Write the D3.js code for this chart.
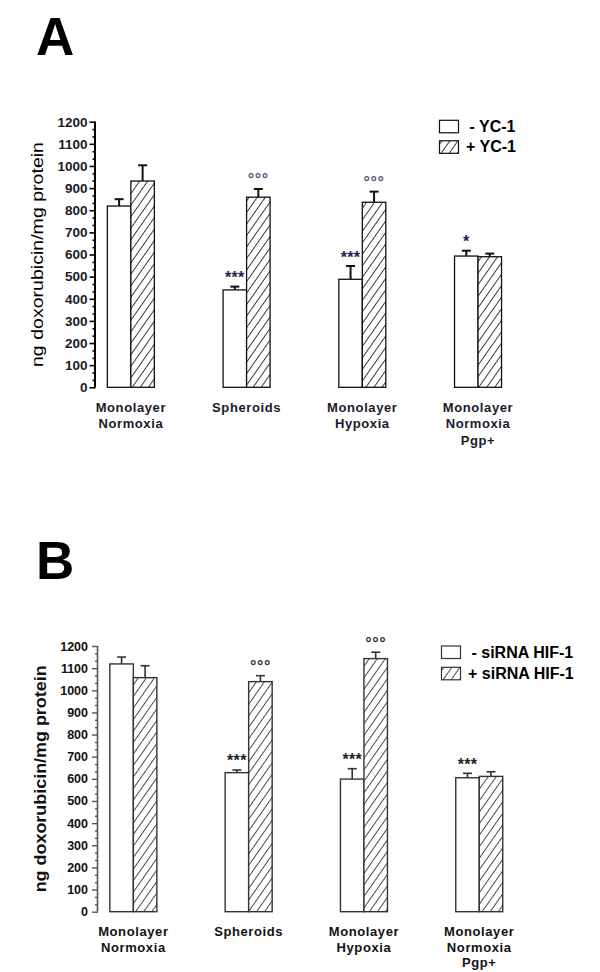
<!DOCTYPE html>
<html><head><meta charset="utf-8">
<script src="https://cdn.jsdelivr.net/npm/d3@7"></script>
<style>
body{margin:0;background:#fff;}
svg{display:block;font-family:"Liberation Sans",Arial,sans-serif;}
</style></head>
<body><svg id="c" width="600" height="972"></svg>
<script>
const categories = ["Monolayer|Normoxia","Spheroids","Monolayer|Hypoxia","Monolayer|Normoxia|Pgp+"];
const yTicks = [0,100,200,300,400,500,600,700,800,900,1000,1100,1200];

// Panel A: YC-1
const aSeries = ["- YC-1","+ YC-1"];
const aMinus = [819, 440, 488, 593];
const aMinusErr = [31, 15, 60, 24];
const aPlus = [932, 859, 836, 590];
const aPlusErr = [71, 37, 48, 14];
const aMinusMark = ["", "***", "***", "*"];
const aPlusMark = ["", "°°°", "°°°", ""];

// Panel B: siRNA HIF-1
const bSeries = ["- siRNA HIF-1","+ siRNA HIF-1"];
const bMinus = [1119, 628, 599, 605];
const bMinusErr = [31, 12, 47, 20];
const bPlus = [1057, 1039, 1143, 611];
const bPlusErr = [54, 27, 29, 21];
const bMinusMark = ["", "***", "***", "***"];
const bPlusMark = ["", "°°°", "°°°", ""];

const svg = d3.select("#c");
const defs = svg.append("defs");
function hatch(id, color, w){
  const p = defs.append("pattern").attr("id", id).attr("patternUnits","userSpaceOnUse")
    .attr("width", 6.6).attr("height", 10).attr("patternTransform","rotate(35)");
  p.append("rect").attr("width",6.6).attr("height",10).attr("fill","#fff");
  p.append("line").attr("x1",0.5).attr("x2",0.5).attr("y1",0).attr("y2",10)
    .attr("stroke", color).attr("stroke-width", w);
}
hatch("hA","#222",0.9);
hatch("hB","#333",0.9);

function panel(cfg){
  const g = svg.append("g");
  const y = d3.scaleLinear().domain([0,1200]).range([cfg.y0, cfg.y1]);
  const x = d3.scaleBand().domain(categories).range(cfg.xr).paddingInner(0).paddingOuter(0);
  const bw = cfg.bw;
  g.append("text").attr("x", cfg.letterX).attr("y", cfg.letterY).text(cfg.letter)
    .attr("font-size", 53).attr("font-weight","bold").attr("fill","#000");
  const major = d3.axisLeft(y).tickValues(yTicks).tickSize(cfg.tick).tickPadding(cfg.pad).tickFormat(d3.format("d"));
  const ax = g.append("g").attr("transform",`translate(${cfg.axX},0)`).call(major);
  ax.select(".domain").attr("stroke", cfg.axisColor).attr("stroke-width", cfg.axW).attr("d", `M-0.5,${y(1200)}V${y(0)}`);
  ax.selectAll(".tick line").attr("stroke", cfg.axisColor).attr("stroke-width", cfg.tickW);
  ax.selectAll(".tick text").attr("font-size", cfg.tickFs).attr("font-weight","bold").attr("fill", cfg.textColor)
    .attr("font-family","'Liberation Sans',Arial,sans-serif");
  const minorVals = [];
  yTicks.slice(0,-1).forEach(v => { minorVals.push(v+100/3, v+200/3); });
  const minor = d3.axisLeft(y).tickValues(minorVals).tickSize(cfg.tick/2).tickFormat("");
  const mx = g.append("g").attr("transform",`translate(${cfg.axX},0)`).call(minor);
  mx.select(".domain").remove();
  mx.selectAll(".tick line").attr("stroke", cfg.axisColor).attr("stroke-width", cfg.tickW);
  g.append("text").attr("transform",`translate(${cfg.titleX},${(y(0)+y(1200))/2}) rotate(-90)`)
    .attr("text-anchor","middle").attr("dominant-baseline","central")
    .attr("font-size", cfg.titleFs).attr("font-weight", cfg.titleW).attr("fill", cfg.titleColor)
    .attr("textLength", cfg.titleLen).attr("lengthAdjust","spacingAndGlyphs")
    .text("ng doxorubicin/mg protein");
  const series = [
    {vals: cfg.minus, err: cfg.minusErr, mark: cfg.minusMark, off: -bw, fill: "#fff", isDeg:false},
    {vals: cfg.plus, err: cfg.plusErr, mark: cfg.plusMark, off: 0, fill: `url(#${cfg.hatch})`, isDeg:true}
  ];
  series.forEach(s => {
    categories.forEach((c,i) => {
      const cx = x(c) + x.bandwidth()/2;
      const bx = cx + s.off;
      const v = s.vals[i], e = s.err[i];
      const ex = bx + bw/2;
      g.append("line").attr("x1",ex).attr("x2",ex).attr("y1",y(v)).attr("y2",y(v+e))
        .attr("stroke",cfg.barColor).attr("stroke-width",cfg.errW);
      g.append("line").attr("x1",ex-cfg.cap/2).attr("x2",ex+cfg.cap/2).attr("y1",y(v+e)).attr("y2",y(v+e))
        .attr("stroke",cfg.barColor).attr("stroke-width",cfg.errW);
      g.append("rect").attr("x",bx).attr("y",y(v)).attr("width",bw).attr("height",y(0)-y(v))
        .attr("fill",s.fill).attr("stroke",cfg.barColor).attr("stroke-width",cfg.barW);
      if (s.mark[i]) {
        const center = y(v+e) - 12.5;
        g.append("text").attr("x", ex).attr("y", center + 9)
          .attr("text-anchor","middle").attr("font-size", 16).attr("font-weight","bold")
          .attr("fill", s.isDeg ? cfg.degColor : cfg.starColor)
          .attr("letter-spacing", s.isDeg ? 0.6 : 0.3)
          .text(s.mark[i]);
      }
    });
  });
  categories.forEach(c => {
    const cx = x(c) + x.bandwidth()/2;
    c.split("|").forEach((line,k) => {
      g.append("text").attr("x", cx).attr("y", cfg.labY + k*cfg.labDy).attr("text-anchor","middle")
        .attr("font-size",13).attr("font-weight","bold").attr("letter-spacing",0.6)
        .attr("fill",cfg.textColor).text(line);
    });
  });
  cfg.series.forEach((name,k) => {
    const ly = cfg.legY + k*cfg.legDy;
    g.append("rect").attr("x",cfg.legX).attr("y",ly).attr("width",19).attr("height",12.5)
      .attr("fill", k===0 ? "#fff" : `url(#${cfg.hatch})`).attr("stroke",cfg.barColor).attr("stroke-width",1.2);
    g.append("text").attr("x", cfg.legX + (k===0 ? 30 : 26.5)).attr("y", ly + 11.5)
      .attr("font-size",16).attr("font-weight","bold").attr("fill","#000").text(name);
  });
}

panel({letter:"A", letterX:36, letterY:55, y0:387.3, y1:121.7, xr:[73,535.9], bw:23.5,
  axX:95.5, tick:6, pad:2, axisColor:"#000", axW:2, tickW:1.6, tickFs:13.5, textColor:"#1a1a2a",
  titleX:37.5, titleFs:17, titleW:"normal", titleLen:225, titleColor:"#000",
  minus:aMinus, minusErr:aMinusErr, plus:aPlus, plusErr:aPlusErr, minusMark:aMinusMark, plusMark:aPlusMark,
  hatch:"hA", barColor:"#111", barW:1.3, errW:2, cap:9, starColor:"#222250", degColor:"#555575",
  labY:411.7, labDy:16.6, series:aSeries, legX:439.5, legY:120.3, legDy:20.5});

panel({letter:"B", letterX:36, letterY:579, y0:911.7, y1:646, xr:[75.7,536.9], bw:23.5,
  axX:98, tick:6, pad:4, axisColor:"#555", axW:1.6, tickW:1.4, tickFs:12.5, textColor:"#111",
  titleX:40.5, titleFs:16, titleW:"bold", titleLen:227, titleColor:"#111",
  minus:bMinus, minusErr:bMinusErr, plus:bPlus, plusErr:bPlusErr, minusMark:bMinusMark, plusMark:bPlusMark,
  hatch:"hB", barColor:"#333", barW:1.4, errW:1.6, cap:9, starColor:"#222", degColor:"#333",
  labY:936, labDy:15.6, series:bSeries, legX:441.5, legY:646, legDy:21.3});
</script></body></html>
